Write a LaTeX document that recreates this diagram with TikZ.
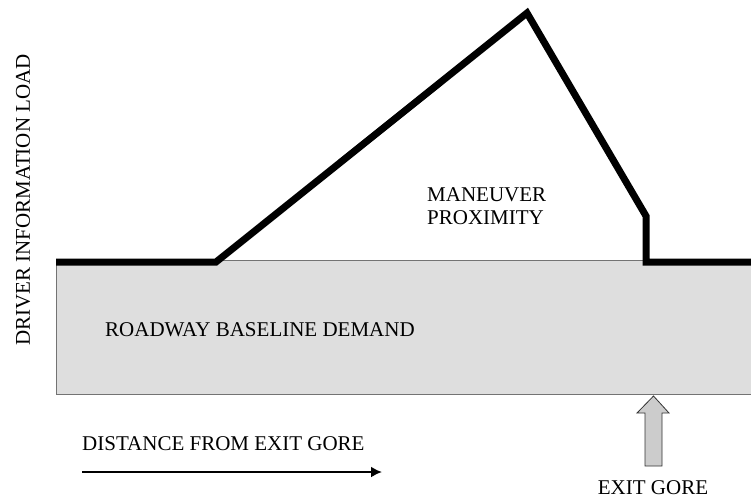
\documentclass[tikz,border=0pt]{standalone}
\usepackage{fontspec}
\usetikzlibrary{arrows.meta}
\setmainfont{Liberation Serif}
\begin{document}
\begin{tikzpicture}[x=1pt,y=-1pt,
  lbl/.style={font=\fontsize{21}{23}\selectfont, inner sep=0pt},
  load/.style={line width=7pt, line join=miter},
  gore/.style={draw=black!80, fill=black!20, line width=0.8pt}]
\useasboundingbox (0,0) rectangle (751,499);
\fill[white] (0,0) rectangle (751,499);
% baseline box
\draw[fill=black!13, draw=black!55, line width=1pt] (56,260) rectangle (760,394);
\node[lbl, anchor=west] (base) at (105,330) {ROADWAY BASELINE DEMAND};
% load line
\coordinate (l0) at (56,262);
\coordinate (l1) at (216,262);
\coordinate (pk) at (527,13);
\coordinate (l3) at (646,216);
\coordinate (l4) at (646,262);
\coordinate (l5) at (760,262);
\draw[load] (l0) -- (l1) -- (pk) -- (l3) -- (l4) -- (l5);
\node[lbl, align=left, anchor=west] (man) at (427,206) {MANEUVER\\PROXIMITY};
% axis label
\node[lbl, rotate=90] (ylab) at (23,200) {DRIVER INFORMATION LOAD};
% distance arrow
\node[lbl, anchor=west] (dist) at (82,444) {DISTANCE FROM EXIT GORE};
\coordinate (da) at (82,472);
\coordinate (db) at (382,472);
\draw[line width=2pt, -{Latex[length=11pt,width=11pt]}] (da) -- (db);
% exit gore arrow
\draw[gore] (645,466) -- (662,466) -- (662,413) -- (669,413) -- (653.5,396) -- (637,413) -- (645,413) -- cycle;
\node[lbl] (exit) at (653,488) {EXIT GORE};
\end{tikzpicture}
\end{document}
